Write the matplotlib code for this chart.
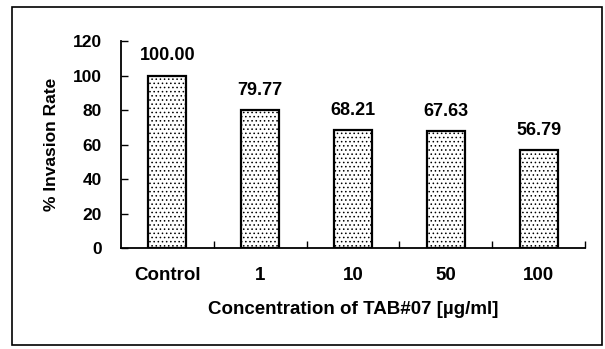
import matplotlib
matplotlib.use("Agg")
import matplotlib.pyplot as plt
from matplotlib.patches import Rectangle

categories = ["Control", "1", "10", "50", "100"]
invasion_rate = [100.00, 79.77, 68.21, 67.63, 56.79]
y_ticks = [0, 20, 40, 60, 80, 100, 120]

plt.rcParams["font.family"] = ["Liberation Sans", "DejaVu Sans"]
plt.rcParams["font.weight"] = "bold"
plt.rcParams["hatch.color"] = "#a8a8a8"
plt.rcParams["hatch.linewidth"] = 0.6

W, H = 605, 349
fig = plt.figure(figsize=(W / 100, H / 100), dpi=100)
fig.patch.set_facecolor("white")

# outer frame around the whole chart
fig.add_artist(Rectangle((12 / W, 1 - 345 / H), (602 - 12) / W, (345 - 7) / H,
                         transform=fig.transFigure, fill=False,
                         edgecolor="black", linewidth=1.2))

ax = fig.add_axes([121 / W, 1 - 248 / H, (585 - 121) / W, (248 - 41) / H])
x = list(range(len(categories)))
bars = ax.bar(x, invasion_rate, width=0.41, color="white", edgecolor="black",
              linewidth=1.6, hatch="....")

for xi, v in zip(x, invasion_rate):
    ax.annotate(f"{v:.2f}", (xi, v), xytext=(0, 11), textcoords="offset points",
                ha="center", va="baseline", fontsize=13, fontweight="bold")

ax.set_xlim(-0.5, len(categories) - 0.5)
ax.set_ylim(0, 120)
ax.set_yticks(y_ticks)
ax.set_yticklabels([str(t) for t in y_ticks], fontsize=12.5, fontweight="bold")
ax.tick_params(axis="y", direction="in", length=5, width=1, pad=14)

# category labels centred, tick marks on category boundaries
ax.set_xticks(x)
ax.set_xticklabels(categories, fontsize=13.5, fontweight="bold")
ax.tick_params(axis="x", which="major", length=0, pad=14)
ax.set_xticks([i + 0.5 for i in x], minor=True)
ax.tick_params(axis="x", which="minor", direction="in", length=5, width=1)

for side in ("top", "right"):
    ax.spines[side].set_visible(False)
for side in ("left", "bottom"):
    ax.spines[side].set_linewidth(1.3)

ax.set_ylabel("% Invasion Rate", fontsize=12.5, fontweight="bold", labelpad=10)
ax.set_xlabel("Concentration of TAB#07 [µg/ml]", fontsize=13.5,
              fontweight="bold", labelpad=12)

fig.savefig("out.png", dpi=100, facecolor="white")
